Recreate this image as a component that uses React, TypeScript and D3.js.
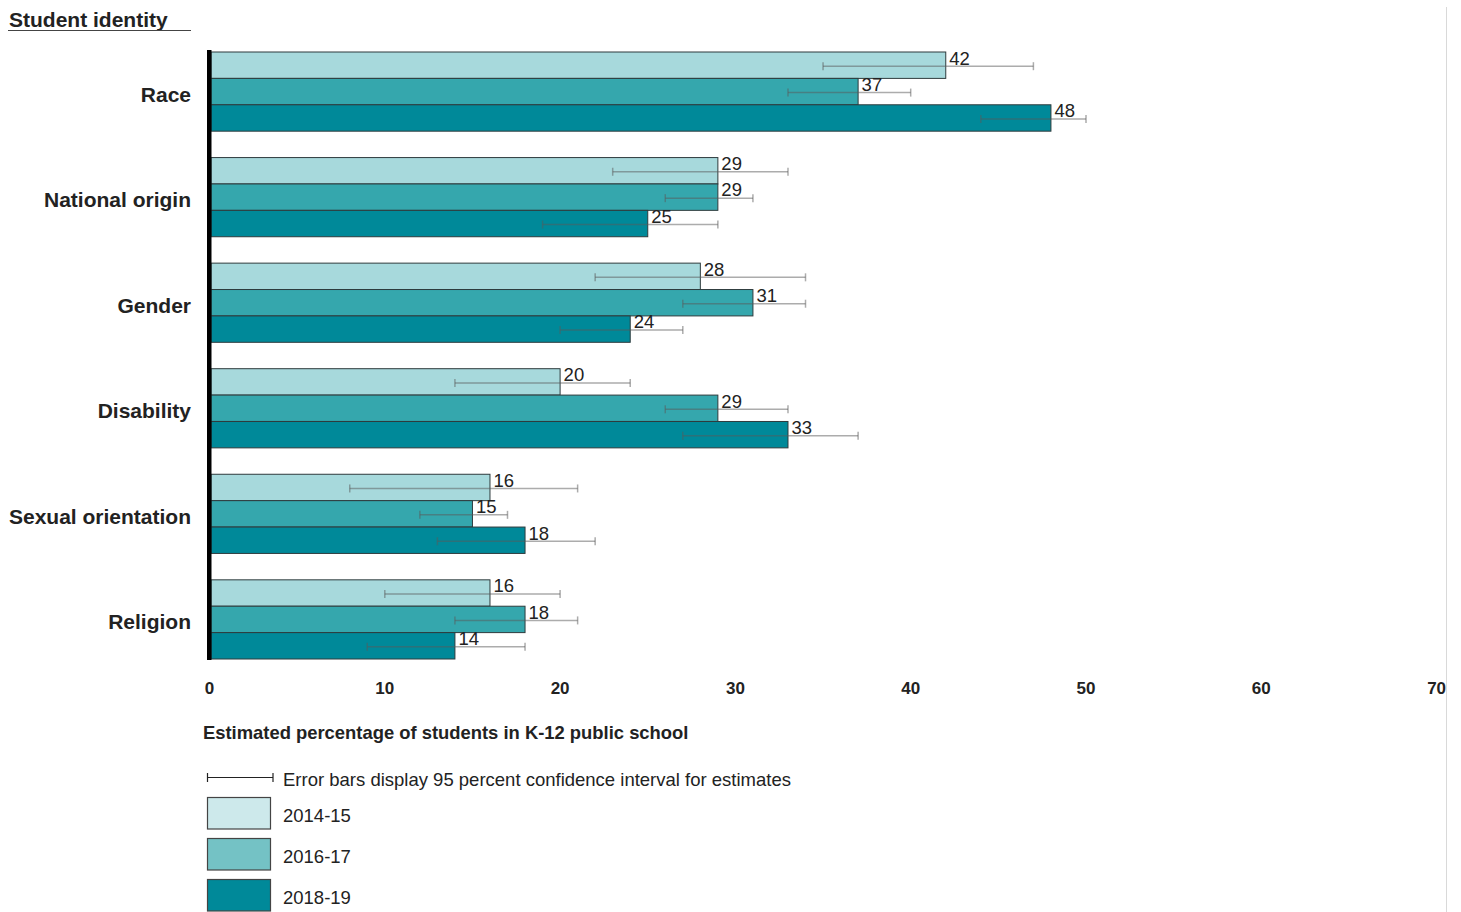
import React from "react";
import * as d3 from "d3";

const categories = ["Race", "National origin", "Gender", "Disability", "Sexual orientation", "Religion"];
const years = ["2014-15", "2016-17", "2018-19"];
const values2014 = [42, 29, 28, 20, 16, 16];
const values2016 = [37, 29, 31, 29, 15, 18];
const values2018 = [48, 25, 24, 33, 18, 14];
const low2014 = [35, 23, 22, 14, 8, 10];
const high2014 = [47, 33, 34, 24, 21, 20];
const low2016 = [33, 26, 27, 26, 12, 14];
const high2016 = [40, 31, 34, 33, 17, 21];
const low2018 = [44, 19, 20, 27, 13, 9];
const high2018 = [50, 29, 27, 37, 22, 18];
const xTicks = [0, 10, 20, 30, 40, 50, 60, 70];

const barColors = ["#a7d9dc", "#35a7ad", "#008999"];
const legendColors = ["#cde9eb", "#74c2c5", "#008999"];

const FONT = "'Liberation Sans', Arial, Helvetica, sans-serif";

export default function App() {
  const W = 1461;
  const H = 912;
  const x = d3.scaleLinear().domain([0, 70]).range([209.5, 1436.6]);
  const y = d3.scaleBand<string>().domain(categories).range([52, 659]).paddingInner(0.25).paddingOuter(0);
  const sub = d3.scaleBand<string>().domain(years).range([0, y.bandwidth()]).padding(0);

  const series = [
    { year: years[0], vals: values2014, lo: low2014, hi: high2014 },
    { year: years[1], vals: values2016, lo: low2016, hi: high2016 },
    { year: years[2], vals: values2018, lo: low2018, hi: high2018 },
  ];

  const bh = sub.bandwidth();

  return (
    <svg width={W} height={H} style={{ position: "absolute", left: 0, top: 0, display: "block", background: "#fff" }} fontFamily={FONT}>
      <rect x={0} y={0} width={W} height={H} fill="#fff" />
      {/* right border line */}
      <line x1={1446.5} x2={1446.5} y1={7} y2={H} stroke="#d9d9d9" strokeWidth={1} />

      {/* title */}
      <text x={9} y={26.5} fontSize={21} fontWeight="bold" fill="#222">Student identity</text>
      <line x1={8} x2={191} y1={30.5} y2={30.5} stroke="#444" strokeWidth={1.2} />

      {/* bars */}
      {series.map((s, si) =>
        categories.map((c, ci) => {
          const y0 = (y(c) as number) + (sub(s.year) as number);
          return (
            <rect
              key={`b-${si}-${ci}`}
              x={x(0) + 1.5}
              y={y0}
              width={x(s.vals[ci]) - x(0) - 1.5}
              height={bh}
              fill={barColors[si]}
              stroke="#2e3b3d"
              strokeWidth={1}
            />
          );
        })
      )}

      {/* error bars */}
      {series.map((s, si) =>
        categories.map((c, ci) => {
          const yc = (y(c) as number) + (sub(s.year) as number) + bh / 2 + 1;
          const x1 = x(s.lo[ci]);
          const x2 = x(s.hi[ci]);
          return (
            <g key={`e-${si}-${ci}`} stroke="#5a5a5a" strokeOpacity={0.5} strokeWidth={1.5}>
              <line x1={x1} x2={x2} y1={yc} y2={yc} />
              <line x1={x1} x2={x1} y1={yc - 4} y2={yc + 4} />
              <line x1={x2} x2={x2} y1={yc - 4} y2={yc + 4} />
            </g>
          );
        })
      )}

      {/* value labels */}
      {series.map((s, si) =>
        categories.map((c, ci) => {
          const y0 = (y(c) as number) + (sub(s.year) as number);
          return (
            <text key={`l-${si}-${ci}`} x={x(s.vals[ci]) + 3.5} y={y0 + 12.5} fontSize={18.5} fill="#222">
              {s.vals[ci]}
            </text>
          );
        })
      )}

      {/* axis line */}
      <rect x={207} y={50} width={4.5} height={610} fill="#000" />

      {/* category labels */}
      {categories.map((c) => (
        <text
          key={`c-${c}`}
          x={191}
          y={(y(c) as number) + y.bandwidth() / 2 + 10}
          textAnchor="end"
          fontSize={21}
          fontWeight="bold"
          fill="#222"
        >
          {c}
        </text>
      ))}

      {/* x tick labels */}
      {xTicks.map((t) => (
        <text key={`t-${t}`} x={x(t)} y={694} textAnchor="middle" fontSize={17} fontWeight="bold" fill="#222">
          {t}
        </text>
      ))}

      {/* axis title */}
      <text x={203} y={739} fontSize={18.4} fontWeight="bold" fill="#222">
        Estimated percentage of students in K-12 public school
      </text>

      {/* legend: error bar */}
      <g stroke="#222" strokeWidth={1.2}>
        <line x1={207.5} x2={273} y1={777.5} y2={777.5} />
        <line x1={207.5} x2={207.5} y1={773} y2={782} />
        <line x1={273} x2={273} y1={773} y2={782} />
      </g>
      <text x={283} y={786} fontSize={18.5} fill="#222">
        Error bars display 95 percent confidence interval for estimates
      </text>

      {/* legend: years */}
      {years.map((yr, i) => (
        <g key={`lg-${yr}`}>
          <rect x={207.5} y={797.5 + i * 41} width={63} height={31.5} fill={legendColors[i]} stroke="#444" strokeWidth={1.2} />
          <text x={283} y={821.5 + i * 41} fontSize={18.5} fill="#222">
            {yr}
          </text>
        </g>
      ))}
    </svg>
  );
}
